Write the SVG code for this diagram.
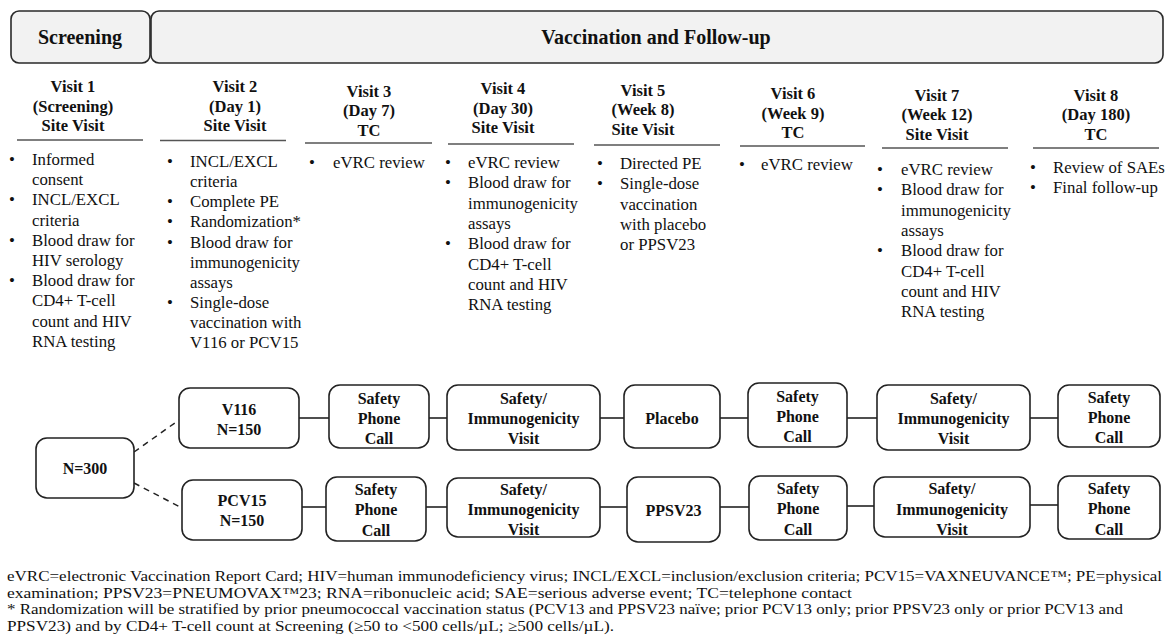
<svg xmlns="http://www.w3.org/2000/svg" width="1169" height="641" viewBox="0 0 1169 641">
<style>
text{font-family:"Liberation Serif","Times New Roman",serif;fill:#111}
.hd{font-size:20px;font-weight:bold;text-anchor:middle}
.vh{font-size:16.5px;font-weight:bold;text-anchor:middle}
.bl{font-size:16.8px}
.bu{font-size:16.8px;text-anchor:middle}
.bx{font-size:16px;font-weight:bold;text-anchor:middle}
.fn{font-size:14.8px}
.hbox{fill:#f2f2f2;stroke:#2a2a2a;stroke-width:1.6}
.box{fill:#fff;stroke:#222;stroke-width:1.6}
.ul{stroke:#555;stroke-width:1.3}
.cn{stroke:#222;stroke-width:1.6;fill:none}
.dash{stroke:#222;stroke-width:1.5;fill:none;stroke-dasharray:6 5}
</style>
<rect width="1169" height="641" fill="#fff"/>
<g id="hdr-screening"><rect class="hbox" x="11" y="11" width="139" height="52" rx="8"/><text class="hd" x="80" y="44">Screening</text></g>
<g id="hdr-vaccination"><rect class="hbox" x="151" y="11" width="1012" height="52" rx="8"/><text class="hd" x="656" y="44">Vaccination and Follow-up</text></g>

<g id="visit1">
<text class="vh"><tspan x="73" y="91.5">Visit 1</tspan><tspan x="73" y="111.5">(Screening)</tspan><tspan x="73" y="131">Site Visit</tspan></text>
<line class="ul" x1="17" y1="140" x2="143" y2="140"/>
<text class="bu"><tspan x="12" y="165">•</tspan><tspan x="12" y="205.4">•</tspan><tspan x="12" y="245.8">•</tspan><tspan x="12" y="286.2">•</tspan></text>
<text class="bl"><tspan x="32" y="165">Informed</tspan><tspan x="32" y="185.2">consent</tspan><tspan x="32" y="205.4">INCL/EXCL</tspan><tspan x="32" y="225.6">criteria</tspan><tspan x="32" y="245.8">Blood draw for</tspan><tspan x="32" y="266">HIV serology</tspan><tspan x="32" y="286.2">Blood draw for</tspan><tspan x="32" y="306.4">CD4+ T-cell</tspan><tspan x="32" y="326.6">count and HIV</tspan><tspan x="32" y="346.8">RNA testing</tspan></text>
</g>

<g id="visit2">
<text class="vh"><tspan x="235" y="91.5">Visit 2</tspan><tspan x="235" y="111.5">(Day 1)</tspan><tspan x="235" y="131">Site Visit</tspan></text>
<line class="ul" x1="160" y1="140.5" x2="286" y2="140.5"/>
<text class="bu"><tspan x="170" y="167">•</tspan><tspan x="170" y="207">•</tspan><tspan x="170" y="227.3">•</tspan><tspan x="170" y="247.5">•</tspan><tspan x="170" y="308">•</tspan></text>
<text class="bl"><tspan x="190" y="167">INCL/EXCL</tspan><tspan x="190" y="187">criteria</tspan><tspan x="190" y="207">Complete PE</tspan><tspan x="190" y="227.3">Randomization*</tspan><tspan x="190" y="247.5">Blood draw for</tspan><tspan x="190" y="267.7">immunogenicity</tspan><tspan x="190" y="287.9">assays</tspan><tspan x="190" y="308">Single-dose</tspan><tspan x="190" y="328.2">vaccination with</tspan><tspan x="190" y="348.4">V116 or PCV15</tspan></text>
</g>

<g id="visit3">
<text class="vh"><tspan x="369" y="96.5">Visit 3</tspan><tspan x="369" y="116">(Day 7)</tspan><tspan x="369" y="135.5">TC</tspan></text>
<line class="ul" x1="305" y1="143" x2="432" y2="143"/>
<text class="bu"><tspan x="312" y="168">•</tspan></text>
<text class="bl"><tspan x="333" y="168">eVRC review</tspan></text>
</g>

<g id="visit4">
<text class="vh"><tspan x="503" y="94">Visit 4</tspan><tspan x="503" y="113.5">(Day 30)</tspan><tspan x="503" y="133">Site Visit</tspan></text>
<line class="ul" x1="448" y1="144" x2="574" y2="144"/>
<text class="bu"><tspan x="448" y="168">•</tspan><tspan x="448" y="188.3">•</tspan><tspan x="448" y="249">•</tspan></text>
<text class="bl"><tspan x="468" y="168">eVRC review</tspan><tspan x="468" y="188.3">Blood draw for</tspan><tspan x="468" y="208.6">immunogenicity</tspan><tspan x="468" y="228.9">assays</tspan><tspan x="468" y="249.2">Blood draw for</tspan><tspan x="468" y="269.5">CD4+ T-cell</tspan><tspan x="468" y="289.8">count and HIV</tspan><tspan x="468" y="310.1">RNA testing</tspan></text>
</g>

<g id="visit5">
<text class="vh"><tspan x="643" y="95.5">Visit 5</tspan><tspan x="643" y="115">(Week 8)</tspan><tspan x="643" y="134.5">Site Visit</tspan></text>
<line class="ul" x1="594" y1="145" x2="720" y2="145"/>
<text class="bu"><tspan x="600" y="169">•</tspan><tspan x="600" y="189.3">•</tspan></text>
<text class="bl"><tspan x="620" y="169">Directed PE</tspan><tspan x="620" y="189.3">Single-dose</tspan><tspan x="620" y="209.6">vaccination</tspan><tspan x="620" y="229.9">with placebo</tspan><tspan x="620" y="250.2">or PPSV23</tspan></text>
</g>

<g id="visit6">
<text class="vh"><tspan x="793" y="99">Visit 6</tspan><tspan x="793" y="118.5">(Week 9)</tspan><tspan x="793" y="138">TC</tspan></text>
<line class="ul" x1="740" y1="146" x2="865" y2="146"/>
<text class="bu"><tspan x="742" y="170">•</tspan></text>
<text class="bl"><tspan x="761" y="170">eVRC review</tspan></text>
</g>

<g id="visit7">
<text class="vh"><tspan x="937" y="100.5">Visit 7</tspan><tspan x="937" y="120">(Week 12)</tspan><tspan x="937" y="139.5">Site Visit</tspan></text>
<line class="ul" x1="882" y1="148" x2="1008" y2="148"/>
<text class="bu"><tspan x="880" y="175">•</tspan><tspan x="880" y="195.3">•</tspan><tspan x="880" y="256.2">•</tspan></text>
<text class="bl"><tspan x="901" y="175">eVRC review</tspan><tspan x="901" y="195.3">Blood draw for</tspan><tspan x="901" y="215.6">immunogenicity</tspan><tspan x="901" y="235.9">assays</tspan><tspan x="901" y="256.2">Blood draw for</tspan><tspan x="901" y="276.5">CD4+ T-cell</tspan><tspan x="901" y="296.8">count and HIV</tspan><tspan x="901" y="317.1">RNA testing</tspan></text>
</g>

<g id="visit8">
<text class="vh"><tspan x="1096" y="100.5">Visit 8</tspan><tspan x="1096" y="120">(Day 180)</tspan><tspan x="1096" y="139.5">TC</tspan></text>
<line class="ul" x1="1033" y1="148" x2="1159" y2="148"/>
<text class="bu"><tspan x="1033" y="173">•</tspan><tspan x="1033" y="193.3">•</tspan></text>
<text class="bl"><tspan x="1053" y="173">Review of SAEs</tspan><tspan x="1053" y="193.3">Final follow-up</tspan></text>
</g>

<g id="connectors">
<line class="dash" x1="134" y1="452" x2="179" y2="420"/>
<line class="dash" x1="134" y1="483" x2="182" y2="508"/>
<line class="cn" x1="299" y1="418" x2="329" y2="418"/>
<line class="cn" x1="429" y1="418" x2="447" y2="418"/>
<line class="cn" x1="600" y1="418" x2="624" y2="418"/>
<line class="cn" x1="720" y1="418" x2="748" y2="418"/>
<line class="cn" x1="847" y1="418" x2="877" y2="418"/>
<line class="cn" x1="1030" y1="418" x2="1058" y2="418"/>
<line class="cn" x1="302" y1="507" x2="326" y2="507"/>
<line class="cn" x1="426" y1="507" x2="447" y2="507"/>
<line class="cn" x1="600" y1="507" x2="627" y2="507"/>
<line class="cn" x1="720" y1="507" x2="749" y2="507"/>
<line class="cn" x1="847" y1="506" x2="874" y2="506"/>
<line class="cn" x1="1030" y1="505" x2="1058" y2="505"/>
</g>

<g id="n300"><rect class="box" x="36" y="438" width="98" height="60" rx="11"/><text class="bx" x="85" y="474">N=300</text></g>

<g id="v116"><rect class="box" x="179" y="388" width="120" height="60" rx="11"/><text class="bx"><tspan x="239" y="414.5">V116</tspan><tspan x="239" y="435">N=150</tspan></text></g>
<g id="top-spc1"><rect class="box" x="329" y="385" width="100" height="63" rx="11"/><text class="bx"><tspan x="379" y="403.5">Safety</tspan><tspan x="379" y="424">Phone</tspan><tspan x="379" y="444">Call</tspan></text></g>
<g id="top-siv1"><rect class="box" x="447" y="385" width="153" height="65" rx="11"/><text class="bx"><tspan x="523.5" y="403.5">Safety/</tspan><tspan x="523.5" y="424">Immunogenicity</tspan><tspan x="523.5" y="444">Visit</tspan></text></g>
<g id="placebo"><rect class="box" x="624" y="385" width="96" height="63" rx="11"/><text class="bx" x="672" y="423.5">Placebo</text></g>
<g id="top-spc2"><rect class="box" x="748" y="383" width="99" height="64" rx="11"/><text class="bx"><tspan x="797.5" y="401.5">Safety</tspan><tspan x="797.5" y="422">Phone</tspan><tspan x="797.5" y="442">Call</tspan></text></g>
<g id="top-siv2"><rect class="box" x="877" y="385" width="153" height="65" rx="11"/><text class="bx"><tspan x="953.5" y="403.5">Safety/</tspan><tspan x="953.5" y="424">Immunogenicity</tspan><tspan x="953.5" y="444">Visit</tspan></text></g>
<g id="top-spc3"><rect class="box" x="1058" y="385" width="102" height="62" rx="11"/><text class="bx"><tspan x="1109" y="402.5">Safety</tspan><tspan x="1109" y="423">Phone</tspan><tspan x="1109" y="443">Call</tspan></text></g>

<g id="pcv15"><rect class="box" x="182" y="480" width="120" height="60" rx="11"/><text class="bx"><tspan x="242" y="505.5">PCV15</tspan><tspan x="242" y="526">N=150</tspan></text></g>
<g id="bot-spc1"><rect class="box" x="326" y="477" width="100" height="64" rx="11"/><text class="bx"><tspan x="376" y="494.5">Safety</tspan><tspan x="376" y="515">Phone</tspan><tspan x="376" y="535.5">Call</tspan></text></g>
<g id="bot-siv1"><rect class="box" x="447" y="478" width="153" height="59" rx="11"/><text class="bx"><tspan x="523.5" y="494.5">Safety/</tspan><tspan x="523.5" y="515">Immunogenicity</tspan><tspan x="523.5" y="535">Visit</tspan></text></g>
<g id="ppsv23"><rect class="box" x="627" y="477" width="93" height="65" rx="11"/><text class="bx" x="673.5" y="515.5">PPSV23</text></g>
<g id="bot-spc2"><rect class="box" x="749" y="476" width="98" height="64" rx="11"/><text class="bx"><tspan x="798" y="493.5">Safety</tspan><tspan x="798" y="514">Phone</tspan><tspan x="798" y="534.5">Call</tspan></text></g>
<g id="bot-siv2"><rect class="box" x="874" y="477" width="156" height="60" rx="11"/><text class="bx"><tspan x="952" y="494">Safety/</tspan><tspan x="952" y="514.5">Immunogenicity</tspan><tspan x="952" y="534.5">Visit</tspan></text></g>
<g id="bot-spc3"><rect class="box" x="1058" y="476" width="102" height="63" rx="11"/><text class="bx"><tspan x="1109" y="493.5">Safety</tspan><tspan x="1109" y="514">Phone</tspan><tspan x="1109" y="534.5">Call</tspan></text></g>

<g id="footnotes">
<text class="fn" x="7" y="581" textLength="1155" lengthAdjust="spacingAndGlyphs">eVRC=electronic Vaccination Report Card; HIV=human immunodeficiency virus; INCL/EXCL=inclusion/exclusion criteria; PCV15=VAXNEUVANCE™; PE=physical</text>
<text class="fn" x="7" y="597.5" textLength="845" lengthAdjust="spacingAndGlyphs">examination; PPSV23=PNEUMOVAX™23; RNA=ribonucleic acid; SAE=serious adverse event; TC=telephone contact</text>
<text class="fn" x="7" y="614" textLength="1116" lengthAdjust="spacingAndGlyphs">* Randomization will be stratified by prior pneumococcal vaccination status (PCV13 and PPSV23 naïve; prior PCV13 only; prior PPSV23 only or prior PCV13 and</text>
<text class="fn" x="7" y="630.5" textLength="607" lengthAdjust="spacingAndGlyphs">PPSV23) and by CD4+ T-cell count at Screening (≥50 to &lt;500 cells/µL; ≥500 cells/µL).</text>
</g>
</svg>
